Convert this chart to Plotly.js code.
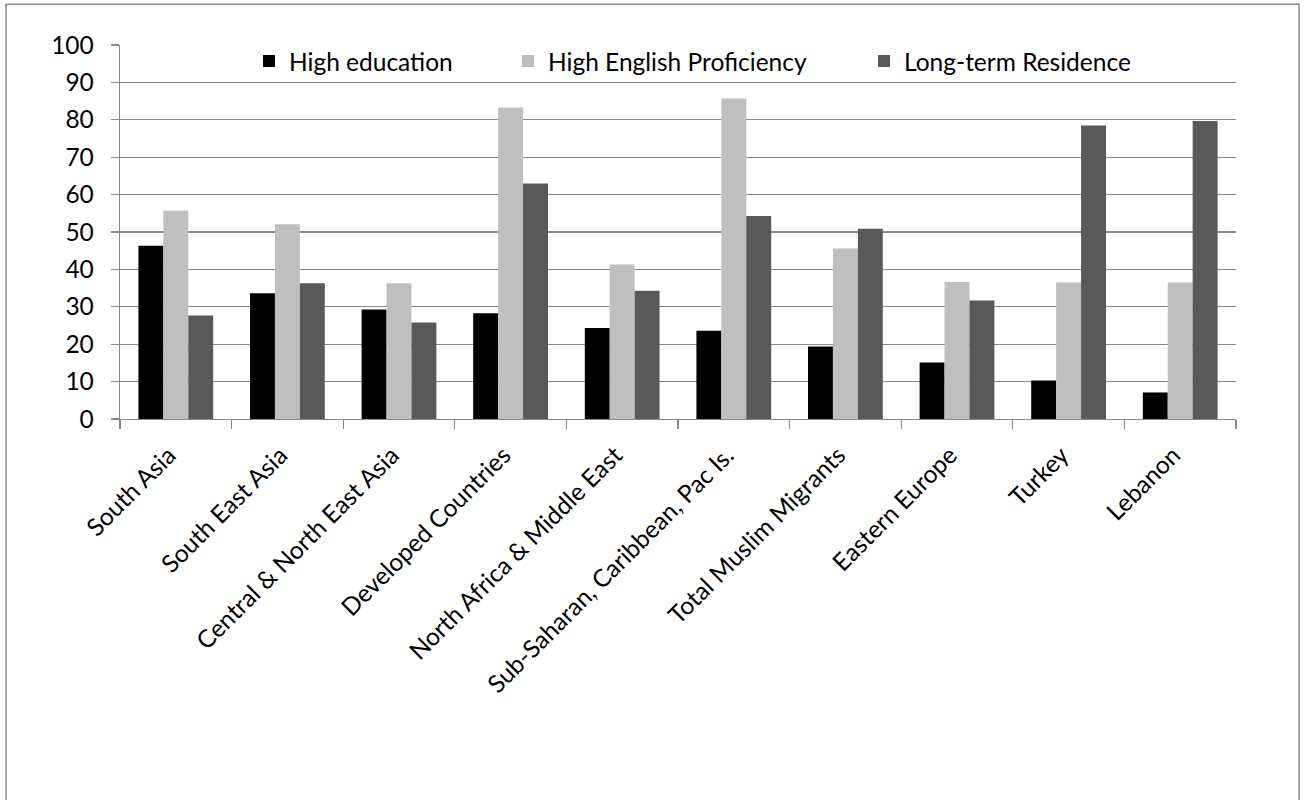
<!DOCTYPE html>
<html>
<head>
<meta charset="utf-8">
<script src="https://cdn.plot.ly/plotly-3.0.1.min.js"></script>
<style>html,body{margin:0;padding:0;background:#fff;}#chart{width:1306px;height:800px;}</style>
</head>
<body>
<div id="chart"></div>
<script>
var categories = ["South Asia", "South East Asia", "Central & North East Asia", "Developed Countries", "North Africa & Middle East", "Sub-Saharan, Caribbean, Pac Is.", "Total Muslim Migrants", "Eastern Europe", "Turkey", "Lebanon"];
var highEducation = [46.3, 33.6, 29.3, 28.3, 24.3, 23.6, 19.4, 15.1, 10.3, 7.1];
var highEnglish = [55.7, 52.1, 36.3, 83.3, 41.3, 85.7, 45.6, 36.6, 36.5, 36.5];
var longTerm = [27.7, 36.3, 25.8, 63.0, 34.3, 54.3, 50.9, 31.7, 78.5, 79.7];
var yTicks = [0, 10, 20, 30, 40, 50, 60, 70, 80, 90, 100];

var FONT = "Lato, 'Open Sans', sans-serif";
var FS = 24.5;
var traces = [
  {type: "bar", name: "High education", x: categories, y: highEducation, marker: {color: "#000000"}, legend: "legend"},
  {type: "bar", name: "High English Proficiency", x: categories, y: highEnglish, marker: {color: "#bfbfbf"}, legend: "legend2"},
  {type: "bar", name: "Long-term Residence", x: categories, y: longTerm, marker: {color: "#595959"}, legend: "legend3"}
];
var legBase = {orientation: "h", yanchor: "middle", xanchor: "left", y: 0.957, bgcolor: "rgba(0,0,0,0)", font: {family: FONT, size: FS, color: "#000"}, borderwidth: 0};
var layout = {
  width: 1306, height: 800,
  margin: {l: 120, r: 70, t: 45, b: 381},
  paper_bgcolor: "#fff", plot_bgcolor: "#fff",
  font: {family: FONT, size: FS, color: "#000"},
  barmode: "group", bargap: 0.33, bargroupgap: 0,
  showlegend: true,
  legend: Object.assign({}, legBase, {x: 0.1156}),
  legend2: Object.assign({}, legBase, {x: 0.3477}),
  legend3: Object.assign({}, legBase, {x: 0.6667}),
  xaxis: {
    type: "category", tickangle: -45, showgrid: false, showline: true, linecolor: "#898989", linewidth: 1.3,
    ticks: "outside", tickson: "boundaries", ticklen: 9, tickcolor: "#898989", tickwidth: 1.3,
    ticklabelstandoff: 11, ticklabelshift: -7, tickfont: {family: FONT, size: FS, color: "#000"}, automargin: false
  },
  yaxis: {
    range: [0, 100], tickvals: yTicks, ticktext: yTicks.map(String), showgrid: true, gridcolor: "#898989", gridwidth: 1.3,
    showline: true, linecolor: "#898989", linewidth: 1.3, ticks: "outside", ticklen: 8, tickcolor: "#898989", tickwidth: 1.3,
    zeroline: false, ticklabelstandoff: 12, tickfont: {family: FONT, size: FS, color: "#000"}, automargin: false
  },
  shapes: [{type: "rect", xref: "paper", yref: "paper", x0: -0.1021, x1: 1.0565, y0: 1.109, y1: -1.2, line: {color: "#898989", width: 1.5}, fillcolor: "rgba(0,0,0,0)"}]
};
Plotly.newPlot("chart", traces, layout, {displayModeBar: false, staticPlot: true});
</script>
</body>
</html>
